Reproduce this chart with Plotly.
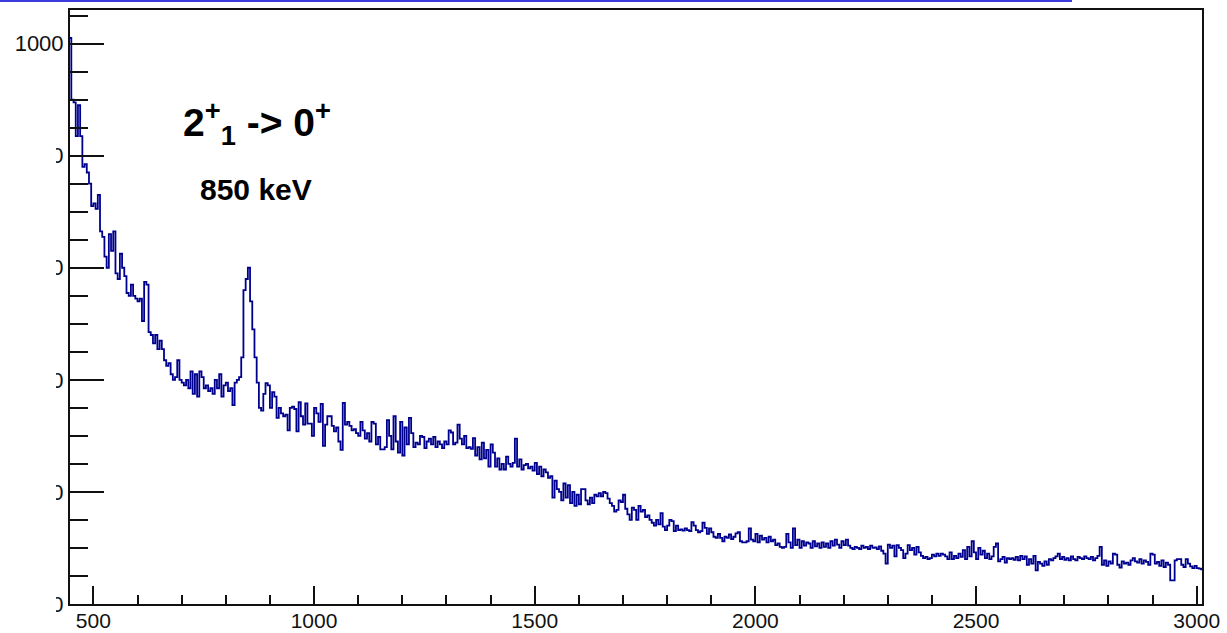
import numpy as np
import plotly.graph_objects as go

# Gamma spectrum, 5 keV bins starting at 445 keV
BIN_START = 445
BIN_WIDTH = 5

counts_445_640 = [1010, 900, 895, 835, 890, 835, 780, 785, 770, 750, 710, 715, 705, 730, 665, 655, 620, 600, 660, 630,
                  665, 590, 580, 625, 600, 585, 555, 550, 570, 550, 545, 540, 545, 505, 575, 570, 485, 480, 465, 480]
counts_645_840 = [455, 470, 455, 435, 425, 430, 410, 400, 405, 435, 400, 395, 390, 400, 385, 415, 375, 410, 370, 415,
                  405, 385, 390, 380, 385, 375, 400, 385, 410, 370, 390, 395, 380, 385, 355, 395, 400, 405, 440, 560]
counts_845_1040 = [580, 600, 540, 490, 440, 395, 350, 345, 375, 394, 390, 350, 378, 370, 332, 350, 340, 335, 338, 310,
                   350, 352, 348, 308, 360, 335, 320, 358, 322, 322, 300, 350, 340, 325, 357, 282, 320, 335, 335, 318]
counts_1045_1240 = [308, 315, 290, 275, 359, 320, 325, 318, 310, 312, 305, 300, 325, 310, 295, 305, 290, 325, 322, 285,
                    298, 276, 276, 280, 328, 300, 276, 335, 290, 270, 325, 265, 315, 285, 332, 305, 280, 288, 285, 300]
counts_1245_1440 = [298, 278, 290, 295, 285, 298, 280, 290, 285, 278, 290, 285, 310, 306, 285, 288, 320, 295, 285, 300,
                    278, 280, 277, 296, 265, 280, 258, 288, 260, 275, 245, 285, 270, 245, 260, 240, 250, 240, 263, 250]
counts_1445_1640 = [245, 252, 295, 245, 258, 240, 248, 250, 242, 245, 238, 252, 232, 245, 228, 240, 235, 225, 228, 190,
                    220, 205, 200, 185, 215, 190, 212, 180, 200, 175, 195, 178, 205, 205, 185, 178, 190, 180, 195, 192]
counts_1645_1840 = [198, 192, 200, 198, 188, 180, 175, 165, 168, 185, 182, 195, 170, 160, 150, 172, 168, 150, 175, 165,
                    168, 155, 158, 150, 145, 140, 150, 142, 162, 138, 132, 140, 150, 148, 130, 140, 132, 133, 131, 135]
counts_1845_2040 = [132, 130, 146, 140, 132, 128, 130, 145, 136, 125, 135, 128, 120, 118, 125, 118, 112, 120, 118, 124,
                    116, 120, 126, 128, 112, 110, 110, 112, 135, 115, 112, 125, 110, 122, 115, 118, 110, 120, 112, 115]
counts_2045_2240 = [105, 108, 102, 100, 102, 125, 110, 100, 135, 105, 115, 100, 112, 104, 110, 108, 100, 112, 103, 108,
                    100, 110, 102, 108, 100, 112, 104, 115, 106, 100, 112, 105, 115, 104, 100, 98, 102, 100, 98, 104]
counts_2245_2440 = [100, 102, 98, 104, 100, 101, 98, 103, 95, 90, 72, 106, 100, 104, 85, 105, 100, 96, 82, 90,
                    105, 96, 100, 88, 102, 92, 86, 82, 84, 80, 82, 88, 85, 90, 86, 90, 88, 85, 80, 92]
counts_2445_2640 = [80, 86, 82, 90, 84, 96, 80, 102, 85, 112, 92, 80, 100, 88, 95, 82, 90, 80, 85, 102,
                    108, 76, 80, 84, 74, 82, 80, 82, 79, 84, 78, 86, 80, 85, 70, 80, 72, 86, 60, 75]
counts_2645_2840 = [72, 68, 76, 70, 80, 78, 82, 85, 90, 80, 84, 79, 82, 78, 85, 80, 78, 84, 82, 80,
                    85, 82, 80, 84, 78, 82, 86, 102, 70, 78, 68, 76, 72, 90, 88, 70, 65, 76, 72, 74]
counts_2845_3010 = [70, 78, 82, 76, 74, 80, 72, 78, 75, 70, 90, 88, 72, 75, 68, 78, 66, 74, 70, 42,
                    42, 78, 80, 80, 70, 66, 80, 72, 67, 64, 68, 64, 63, 62]

y_tick_values = [0, 200, 400, 600, 800, 1000]
y_tick_labels = ["0", "200", "400", "600", "800", "1000"]
x_tick_values = [500, 1000, 1500, 2000, 2500, 3000]
x_tick_labels = ["500", "1000", "1500", "2000", "2500", "3000"]

counts = (counts_445_640 + counts_645_840 + counts_845_1040 + counts_1045_1240 + counts_1245_1440
          + counts_1445_1640 + counts_1645_1840 + counts_1845_2040 + counts_2045_2240 + counts_2245_2440
          + counts_2445_2640 + counts_2645_2840 + counts_2845_3010)

edges = BIN_START + BIN_WIDTH * np.arange(len(counts) + 1)
step_y = counts + [counts[-1]]

FONT = "Liberation Sans, Arial, Helvetica, sans-serif"
W, H = 1227, 633
L, R, T, B = 70, 25, 10, 29
PW, PH = W - L - R, H - T - B


def px(xp):
    return (xp - L) / PW


def py(yp):
    return (H - B - yp) / PH


fig = go.Figure(go.Scatter(
    x=edges, y=step_y, mode="lines",
    line=dict(shape="hv", color="#00008f", width=1.8),
    hoverinfo="skip", showlegend=False,
))

axis_common = dict(
    showgrid=False, zeroline=False, automargin=False,
    showline=True, linecolor="#111111", linewidth=2, mirror=True,
    ticks="inside", tickcolor="#111111", tickwidth=1.5,
)

fig.update_xaxes(
    range=[447, 3012], tickvals=x_tick_values, ticktext=x_tick_labels, ticklen=18,
    tickfont=dict(family=FONT, size=21, color="#111111"), ticklabelstandoff=-3,
    minor=dict(dtick=100, tick0=0, ticks="inside", ticklen=9, tickwidth=1.5, tickcolor="#111111"),
    **axis_common,
)
fig.update_yaxes(
    range=[0, 1060], tickvals=y_tick_values, ticktext=y_tick_labels, ticklen=34,
    tickfont=dict(family=FONT, size=22, color="#111111"),
    minor=dict(dtick=50, tick0=0, ticks="inside", ticklen=18, tickwidth=1.5, tickcolor="#111111"),
    **axis_common,
)

shapes = [
    # blue rule across the top of the page
    dict(type="rect", xref="paper", yref="paper",
         x0=px(0), x1=px(1072), y0=py(2), y1=py(0),
         fillcolor="#3c3cdc", line=dict(width=0), layer="above"),
    # white panel over the left label column below the top label
    dict(type="rect", xref="paper", yref="paper",
         x0=px(0), x1=px(56), y0=py(H), y1=py(58),
         fillcolor="white", line=dict(width=0), layer="above"),
]

annotations = [
    dict(text="<b>2<sup>+</sup><sub>1</sub> -> 0<sup>+</sup></b>", xref="paper", yref="paper",
         x=px(181), y=py(123), xanchor="left", yanchor="middle", showarrow=False,
         font=dict(family=FONT, size=39, color="black")),
    dict(text="<b>850 keV</b>", xref="paper", yref="paper",
         x=px(256), y=py(190), xanchor="center", yanchor="middle", showarrow=False,
         font=dict(family=FONT, size=30, color="black")),
]

fig.update_layout(
    width=W, height=H,
    margin=dict(l=L, r=R, t=T, b=B, pad=0),
    paper_bgcolor="white", plot_bgcolor="white",
    shapes=shapes, annotations=annotations,
)

fig.write_html("out.html")
